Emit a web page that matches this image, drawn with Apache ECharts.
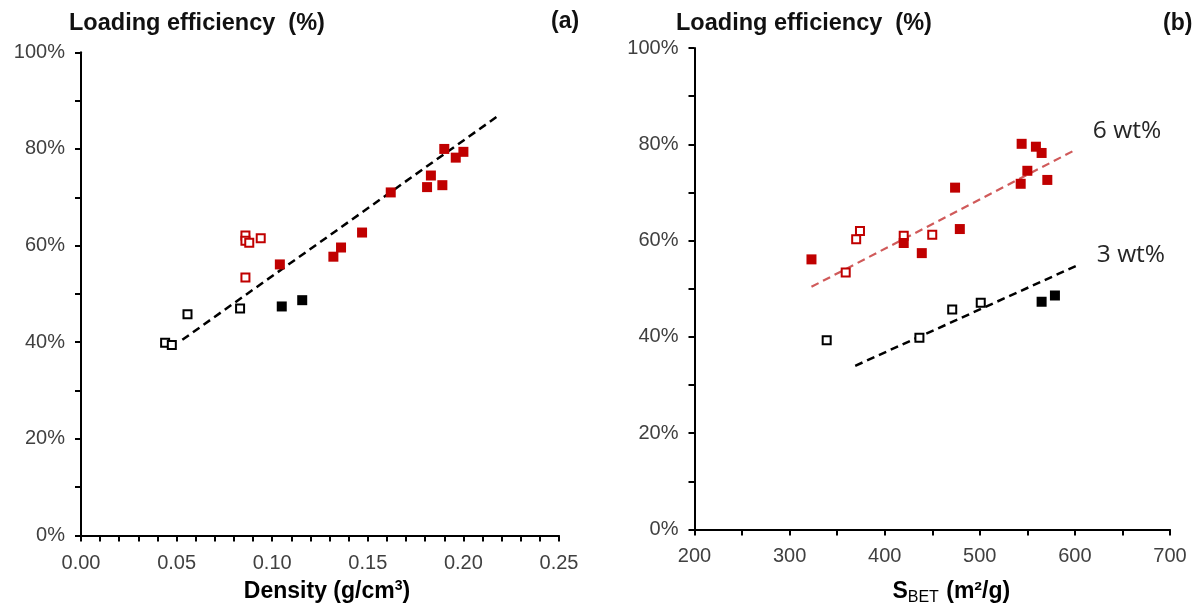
<!DOCTYPE html>
<html>
<head>
<meta charset="utf-8">
<script src="https://cdn.jsdelivr.net/npm/echarts@6/dist/echarts.min.js"></script>
<style>
html,body{margin:0;padding:0;background:#fff;}
#chart{width:1198px;height:603px;}
</style>
</head>
<body>
<div id="chart"></div>
<script>
// ---------- Panel (a): density ----------
const aRedFilledX = [0.190, 0.196, 0.200, 0.183, 0.181, 0.189, 0.162, 0.147, 0.136, 0.132, 0.104];
const aRedFilledY = [80.0, 78.2, 79.4, 74.5, 72.1, 72.5, 71.0, 62.7, 59.6, 57.7, 56.1];
const aRedOpenX = [0.086, 0.086, 0.088, 0.094, 0.086];
const aRedOpenY = [62.1, 61.0, 60.6, 61.5, 53.4];
const aBlackOpenX = [0.044, 0.0475, 0.0557, 0.0832];
const aBlackOpenY = [39.9, 39.4, 45.8, 47.0];
const aBlackFilledX = [0.105, 0.1157];
const aBlackFilledY = [47.4, 48.7];
const aTrendX = [0.053, 0.218];
const aTrendY = [40.5, 86.8];

// ---------- Panel (b): S_BET ----------
const bRedFilledX = [544, 559, 565, 550, 543, 571, 474, 479, 420, 439, 323];
const bRedFilledY = [80.1, 79.5, 78.2, 74.5, 71.8, 72.6, 71.0, 62.4, 59.5, 57.4, 56.1];
const bRedOpenX = [420, 374, 370, 450, 359];
const bRedOpenY = [61.0, 62.0, 60.3, 61.2, 53.4];
const bBlackOpenX = [339, 436.5, 471, 501];
const bBlackOpenY = [39.3, 39.8, 45.7, 47.1];
const bBlackFilledX = [565, 579];
const bBlackFilledY = [47.3, 48.6];
const b6TrendX = [323, 601];
const b6TrendY = [50.4, 78.9];
const b3TrendX = [369, 603];
const b3TrendY = [34.0, 54.9];

const trendLabels = ['6 wt%', '3 wt%'];
const panelLabels = ['(a)', '(b)'];
const yTitle = 'Loading efficiency  (%)';

const zip = (xs, ys) => xs.map((x, i) => [x, ys[i]]);

const RED = '#c00000';
const BLACK = '#000000';
const FONT = 'Liberation Sans, Arial, sans-serif';

function xAxisBase(gridIndex, min, max, interval, minorSplit, fmt, name, nameRich, namePad, labelMargin, nameGap) {
  return {
    type: 'value', gridIndex, min, max, interval,
    axisLine: { show: true, onZero: false, lineStyle: { color: '#000', width: 2 } },
    axisTick: { show: true, length: 6, lineStyle: { color: '#000', width: 2 } },
    minorTick: { show: true, splitNumber: minorSplit, length: 6, lineStyle: { color: '#000', width: 2 } },
    splitLine: { show: false },
    axisLabel: { formatter: fmt, color: '#404040', fontSize: 20, fontFamily: FONT, margin: labelMargin },
    name, nameLocation: 'middle', nameGap,
    nameTextStyle: { color: '#000', fontSize: 23, fontWeight: 'bold', fontFamily: FONT, rich: nameRich, padding: namePad }
  };
}
function yAxisBase(gridIndex) {
  return {
    type: 'value', gridIndex, min: 0, max: 100, interval: 20,
    axisLine: { show: true, onZero: false, lineStyle: { color: '#000', width: 2 } },
    axisTick: { show: true, length: 6, lineStyle: { color: '#000', width: 2 } },
    minorTick: { show: true, splitNumber: 2, length: 6, lineStyle: { color: '#000', width: 2 } },
    splitLine: { show: false },
    axisLabel: { formatter: v => v + '%', color: '#404040', fontSize: 20, fontFamily: FONT, margin: 16 }
  };
}

function filled(name, data, color, xi) {
  return { name, type: 'scatter', xAxisIndex: xi, yAxisIndex: xi, data, symbol: 'rect', symbolSize: 10,
    itemStyle: { color, opacity: 1 }, z: 3 };
}
function open(name, data, color, xi) {
  return { name, type: 'scatter', xAxisIndex: xi, yAxisIndex: xi, data, symbol: 'rect', symbolSize: 8,
    itemStyle: { color: '#fff', borderColor: color, borderWidth: 2, opacity: 1 }, z: 3 };
}
function trend(name, data, color, width, xi, label, offset) {
  const s = { name, type: 'line', xAxisIndex: xi, yAxisIndex: xi, data, symbol: 'none', silent: true,
    lineStyle: { color, width, type: [8, 5] }, z: 2 };
  if (label) {
    s.endLabel = { show: true, formatter: label, color: '#262626', fontSize: 24.5,
      fontFamily: 'Open Sans, Noto Sans, sans-serif', offset, distance: 0 };
  }
  return s;
}

const subRich = {
  sup: { fontSize: 14, fontWeight: 'bold', verticalAlign: 'top', padding: [0, 0, 10, 0], fontFamily: FONT, color: '#000' },
  b: { fontSize: 23, fontWeight: 'bold', fontFamily: FONT, color: '#000' },
  sub: { fontSize: 16, fontWeight: 'normal', fontFamily: FONT, color: '#000', padding: [12, 1, 0, 0] }
};

const option = {
  animation: false,
  backgroundColor: '#fff',
  title: [
    { text: yTitle, left: 69, top: 12, padding: 0, textStyle: { fontSize: 23.5, fontWeight: 'bold', color: '#111', fontFamily: FONT } },
    { text: panelLabels[0], left: 551, top: 10, padding: 0, textStyle: { fontSize: 23, fontWeight: 'bold', color: '#111', fontFamily: FONT } },
    { text: yTitle, left: 676, top: 12, padding: 0, textStyle: { fontSize: 23.5, fontWeight: 'bold', color: '#111', fontFamily: FONT } },
    { text: panelLabels[1], left: 1163, top: 12, padding: 0, textStyle: { fontSize: 23, fontWeight: 'bold', color: '#111', fontFamily: FONT } }
  ],
  grid: [
    { left: 81, top: 52.3, width: 478, height: 483.2, containLabel: false, outerBoundsMode: 'none' },
    { left: 694.5, top: 48, width: 475.5, height: 481.5, containLabel: false, outerBoundsMode: 'none' }
  ],
  xAxis: [
    xAxisBase(0, 0, 0.25, 0.05, 5, v => v.toFixed(2), '{b|Density (g/cm}{sup|3}{b|)}', subRich, [0, 0, 0, 14], 18, 44),
    xAxisBase(1, 200, 700, 100, 2, v => String(v), '{b|S}{sub|BET}{b| (m²/g)}', subRich, [0, 0, 0, 38], 17, 48)
  ],
  yAxis: [yAxisBase(0), yAxisBase(1)],
  series: [
    trend('trendA', zip(aTrendX, aTrendY), '#000', 2.5, 0),
    open('aRedOpen', zip(aRedOpenX, aRedOpenY), RED, 0),
    filled('aRedFilled', zip(aRedFilledX, aRedFilledY), RED, 0),
    open('aBlackOpen', zip(aBlackOpenX, aBlackOpenY), BLACK, 0),
    filled('aBlackFilled', zip(aBlackFilledX, aBlackFilledY), BLACK, 0),

    trend('trend6', zip(b6TrendX, b6TrendY), '#d05a5a', 2.2, 1, trendLabels[0], [17, -18.5]),
    trend('trend3', zip(b3TrendX, b3TrendY), '#000', 2.5, 1, trendLabels[1], [19, -10]),
    open('bRedOpen', zip(bRedOpenX, bRedOpenY), RED, 1),
    filled('bRedFilled', zip(bRedFilledX, bRedFilledY), RED, 1),
    open('bBlackOpen', zip(bBlackOpenX, bBlackOpenY), BLACK, 1),
    filled('bBlackFilled', zip(bBlackFilledX, bBlackFilledY), BLACK, 1)
  ]
};

const chart = echarts.init(document.getElementById('chart'));
chart.setOption(option);
</script>
</body>
</html>
